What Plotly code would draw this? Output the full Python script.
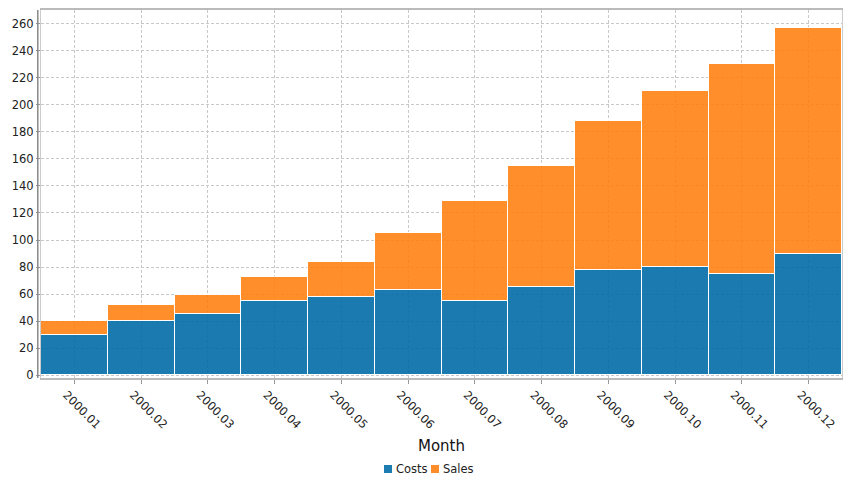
import plotly.graph_objects as go

months = ["2000.01", "2000.02", "2000.03", "2000.04", "2000.05", "2000.06",
          "2000.07", "2000.08", "2000.09", "2000.10", "2000.11", "2000.12"]
costs = [30, 40, 45, 55, 58, 63, 55, 65, 78, 80, 75, 90]
sales = [10, 12, 14, 18, 26, 42, 74, 90, 110, 130, 155, 167]
y_ticks = list(range(0, 261, 20))

series = [("Costs", costs, "#036ca7", 0.9), ("Sales", sales, "#ff7f0e", 0.88)]
legend_colors = {"Costs": "#1c7bb0", "Sales": "#fe8c29"}

FONT = "DejaVu Sans"
W, H = 854, 480
ML, MR, MT, MB = 41, 12, 10, 102

fig = go.Figure()
for name, vals, color, op in series:
    fig.add_trace(go.Bar(x=months, y=vals, name=name,
                         marker=dict(color=color, opacity=op,
                                     line=dict(color="white", width=1.5))))

fig.update_layout(
    barmode="stack",
    bargap=0.0,
    width=W, height=H,
    margin=dict(l=ML, r=MR, t=MT, b=MB, autoexpand=False),
    plot_bgcolor="white", paper_bgcolor="white",
    font=dict(family=FONT, size=11.5, color="#222222"),
    showlegend=False,
    xaxis=dict(
        automargin=False,
        title=dict(text="Month", font=dict(family=FONT, size=15, color="#111111"), standoff=10),
        tickangle=45, tickfont=dict(family=FONT, size=11.5, color="#222222"),
        ticklabelshift=-8,
        showgrid=True, gridcolor="#c8c8c8", griddash="3px,2px", gridwidth=1,
        ticks="outside", ticklen=4, tickcolor="#999999",
        showline=True, linecolor="#bbbbbb", linewidth=1.5, mirror=True,
    ),
    yaxis=dict(
        automargin=False,
        range=[-2, 270], tickvals=y_ticks,
        tickfont=dict(family=FONT, size=11.5, color="#222222"),
        showgrid=True, gridcolor="#c8c8c8", griddash="3px,2px", gridwidth=1,
        ticks="outside", ticklen=4, tickcolor="#999999",
        showline=True, linecolor="#cccccc", linewidth=1, mirror=True,
        zeroline=False,
    ),
)
fig.add_shape(type="line", xref="paper", yref="paper", x0=-0.004, x1=-0.004, y0=0, y1=1,
              line=dict(color="#888888", width=1.5))

# compact legend at bottom centre
pw = W - ML - MR
ph = H - MT - MB
def px_to_paper_x(px):
    return (px - ML) / pw
def px_to_paper_y(py):
    return (H - MB - py) / ph

leg_x = [384, 431]
for (name, _, _, _), lx in zip(series, leg_x):
    fig.add_shape(type="rect", xref="paper", yref="paper",
                  x0=px_to_paper_x(lx), x1=px_to_paper_x(lx + 8),
                  y0=px_to_paper_y(473), y1=px_to_paper_y(465),
                  fillcolor=legend_colors[name], line=dict(width=0))
    fig.add_annotation(text=name, xref="paper", yref="paper",
                       x=px_to_paper_x(lx + 10), y=px_to_paper_y(469),
                       xanchor="left", yanchor="middle", showarrow=False,
                       font=dict(family=FONT, size=11.5, color="#222222"))

fig.write_html("out.html", config={"displayModeBar": False},
               post_script="document.body.style.margin='0';document.body.style.overflow='hidden';")
